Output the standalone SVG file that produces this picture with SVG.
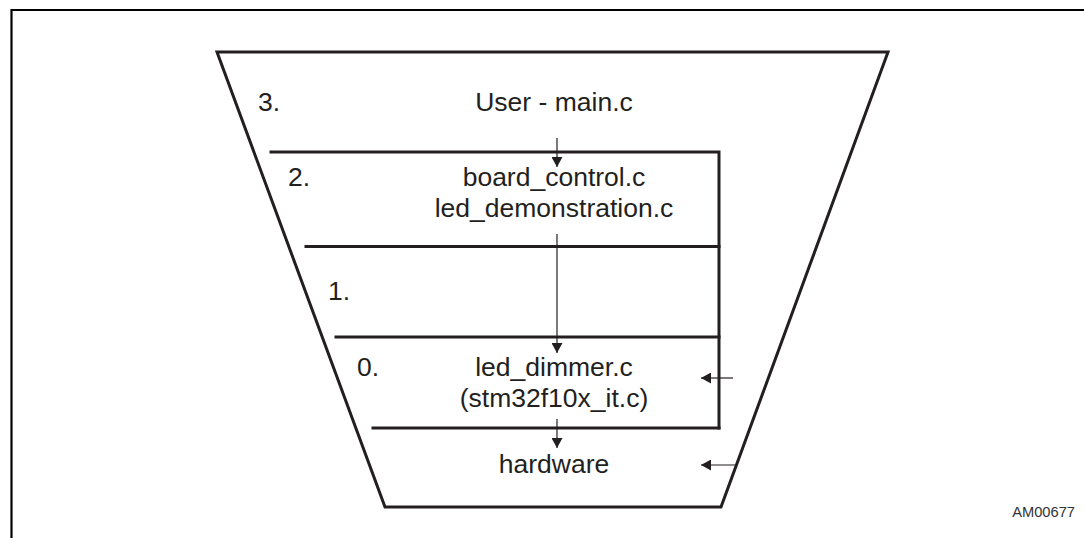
<svg xmlns="http://www.w3.org/2000/svg" width="1084" height="538" viewBox="0 0 1084 538">
<style>
.bg{fill:#ffffff}
.frame{fill:none;stroke:#000000;stroke-width:2.2}
.thick{fill:none;stroke:#231f20;stroke-width:3;stroke-linecap:square;stroke-linejoin:miter}
.conn{fill:none;stroke:#231f20;stroke-width:1.2}
.t{font-family:"Liberation Sans",Arial,sans-serif;font-size:26.5px;fill:#231f20}
.c{text-anchor:middle}
.id{font-family:"Liberation Sans",Arial,sans-serif;font-size:14.7px;fill:#333333;text-anchor:end}
</style>
<defs>
<marker id="ah" markerUnits="userSpaceOnUse" markerWidth="10" markerHeight="11" viewBox="0 0 10 11" refX="10" refY="5.5" orient="auto">
<path d="M0,0 L10,5.5 L0,11 z" fill="#231f20"/>
</marker>
</defs>
<rect class="bg" x="0" y="0" width="1084" height="538"/>
<path class="frame" d="M11.5,540 L11.5,10 L1090,10"/>

<g id="funnel">
<path class="thick" d="M217,52 L888,52 L721,507 L385,507 Z"/>
</g>

<g id="level3">
<text class="t" x="258" y="111">3.</text>
<text class="t c" x="554" y="111">User - main.c</text>
</g>

<g id="level2">
<path class="thick" d="M271,152 L719,152 L719,428"/>
<text class="t" x="288" y="186">2.</text>
<text class="t c" x="554" y="186">board_control.c</text>
<text class="t c" x="554" y="217">led_demonstration.c</text>
</g>

<g id="level1">
<line class="thick" x1="306" y1="246.5" x2="719" y2="246.5"/>
<text class="t" x="328" y="300">1.</text>
</g>

<g id="level0">
<line class="thick" x1="336" y1="337" x2="719" y2="337"/>
<text class="t" x="357" y="376">0.</text>
<text class="t c" x="554" y="376">led_dimmer.c</text>
<text class="t c" x="554" y="407">(stm32f10x_it.c)</text>
</g>

<g id="hardware">
<line class="thick" x1="373" y1="428" x2="719" y2="428"/>
<text class="t c" x="554" y="473">hardware</text>
</g>

<g id="connectors">
<line class="conn" x1="557" y1="138" x2="557" y2="167" marker-end="url(#ah)"/>
<line class="conn" x1="557" y1="234" x2="557" y2="353" marker-end="url(#ah)"/>
<line class="conn" x1="557" y1="419" x2="557" y2="448" marker-end="url(#ah)"/>
<line class="conn" x1="733" y1="378" x2="701" y2="378" marker-end="url(#ah)"/>
<line class="conn" x1="735" y1="465" x2="701" y2="465" marker-end="url(#ah)"/>
</g>

<text class="id" x="1075" y="517">AM00677</text>
</svg>
